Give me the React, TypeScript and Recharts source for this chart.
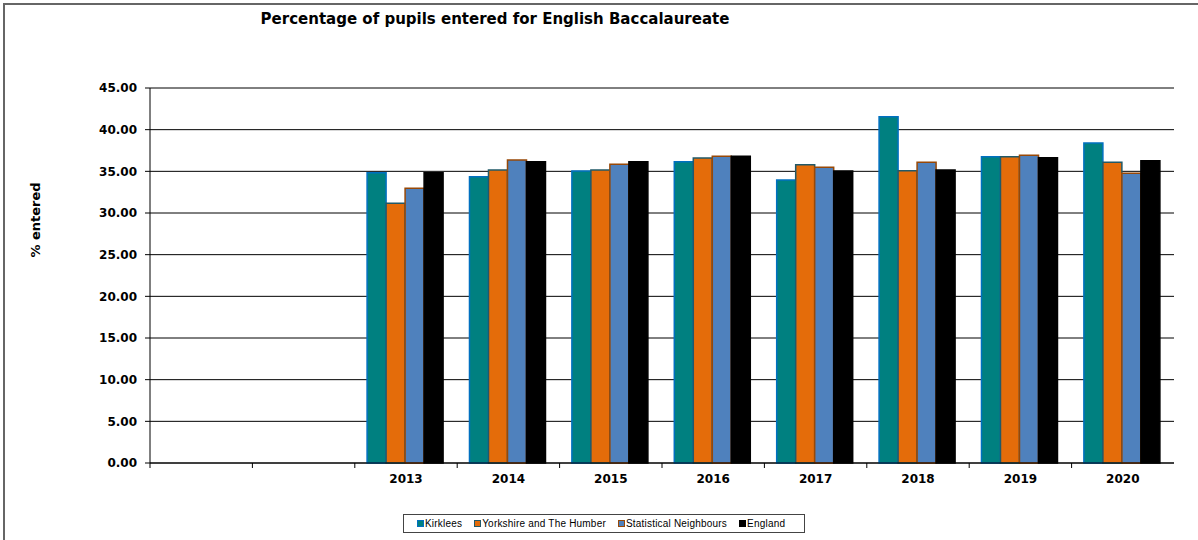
import React from 'react';
import { BarChart, Bar, XAxis, YAxis, CartesianGrid } from 'recharts';

// categories (first two slots are empty in the source chart)
const years = ['', '', '2013', '2014', '2015', '2016', '2017', '2018', '2019', '2020'];

const kirklees = [null, null, 34.84, 34.36, 35.04, 36.16, 33.96, 41.56, 36.76, 38.4];
const yorkshire = [null, null, 31.16, 35.16, 35.16, 36.6, 35.8, 35.08, 36.76, 36.08];
const statNeighbours = [null, null, 32.96, 36.36, 35.84, 36.8, 35.48, 36.08, 36.92, 34.76];
const england = [null, null, 34.84, 36.16, 36.16, 36.8, 35.04, 35.16, 36.64, 36.28];

const yTicks = [0, 5, 10, 15, 20, 25, 30, 35, 40, 45];

const seriesNames = ['Kirklees', 'Yorkshire and The Humber', 'Statistical Neighbours', 'England'];
const seriesFill = ['#008080', '#E46C0A', '#4F81BD', '#000000'];
const seriesStroke = ['#0070C0', '#215968', '#984807', '#000000'];
const seriesKeys = ['kirklees', 'yorkshire', 'statNeighbours', 'england'];

const data = years.map((year, i) => ({
  year,
  kirklees: kirklees[i],
  yorkshire: yorkshire[i],
  statNeighbours: statNeighbours[i],
  england: england[i],
}));

const PLOT_W = 1024;
const BAND = PLOT_W / years.length;
const FONT = 'Verdana, "DejaVu Sans", sans-serif';

const YearTick = (props: any) => {
  const { x, y, payload } = props;
  const left = x - BAND / 2;
  return (
    <g>
      <line x1={left} y1={y} x2={left} y2={y + 5} stroke="#000" />
      <text
        x={x}
        y={y + 20}
        textAnchor="middle"
        fontFamily={FONT}
        fontWeight="bold"
        fontSize={12}
        fill="#000"
      >
        {payload.value}
      </text>
    </g>
  );
};

const App = () => {
  return (
    <div
      style={{
        position: 'absolute',
        left: 0,
        top: 0,
        width: 1198,
        height: 540,
        overflow: 'hidden',
        background: '#fff',
      }}
    >
      <div
        style={{
          position: 'absolute',
          left: 3,
          top: 3,
          width: 1300,
          height: 700,
          border: '2px solid #666',
        }}
      />
      <div
        style={{
          position: 'absolute',
          left: 0,
          width: 990,
          top: 10,
          textAlign: 'center',
          fontFamily: FONT,
          fontWeight: 'bold',
          fontSize: 15,
          color: '#000',
        }}
      >
        Percentage of pupils entered for English Baccalaureate
      </div>
      <div
        style={{
          position: 'absolute',
          left: 35,
          top: 220,
          transform: 'translate(-50%, -50%) rotate(-90deg)',
          fontFamily: FONT,
          fontWeight: 'bold',
          fontSize: 13,
          whiteSpace: 'nowrap',
        }}
      >
        % entered
      </div>

      <div style={{ position: 'absolute', left: 0, top: 0 }}>
        <BarChart
          width={1198}
          height={540}
          data={data}
          margin={{ top: 88, right: 24, left: 0, bottom: 47 }}
          barCategoryGap="12%"
          barGap={0}
        >
          <CartesianGrid vertical={false} stroke="#000" strokeWidth={1} />
          <XAxis
            dataKey="year"
            height={30}
            axisLine={{ stroke: '#000' }}
            tickLine={false}
            tickSize={0}
            tickMargin={0}
            tick={<YearTick />}
            interval={0}
          />
          <YAxis
            width={150}
            domain={[0, 45]}
            ticks={yTicks}
            tickFormatter={(v: number) => v.toFixed(2)}
            axisLine={{ stroke: '#000' }}
            tickLine={{ stroke: '#000' }}
            tickSize={5}
            tickMargin={8}
            tick={{ fontFamily: FONT, fontWeight: 'bold', fontSize: 12, fill: '#000' }}
          />
          <YAxis
            yAxisId="frame"
            orientation="right"
            width={0}
            tick={false}
            tickLine={false}
            axisLine={{ stroke: '#000' }}
          />
          {seriesKeys.map((key, i) => (
            <Bar
              key={key}
              dataKey={key}
              name={seriesNames[i]}
              fill={seriesFill[i]}
              stroke={seriesStroke[i]}
              strokeWidth={1.5}
              isAnimationActive={false}
            />
          ))}
        </BarChart>
      </div>

      <div
        style={{
          position: 'absolute',
          left: 403,
          top: 514,
          width: 402,
          height: 19,
          border: '1px solid #444',
          display: 'flex',
          alignItems: 'center',
          paddingLeft: 13,
          boxSizing: 'border-box',
          fontFamily: 'Arial, "Liberation Sans", sans-serif',
          fontSize: 10,
          letterSpacing: 0.2,
          whiteSpace: 'nowrap',
          color: '#000',
        }}
      >
        {seriesNames.map((name, i) => (
          <span
            key={name}
            style={{ display: 'flex', alignItems: 'center', marginRight: 12, flexShrink: 0 }}
          >
            <span
              style={{
                display: 'inline-block',
                width: 5,
                height: 5,
                background: seriesFill[i],
                border: `1.5px solid ${seriesStroke[i]}`,
                marginRight: 1,
              }}
            />
            {name}
          </span>
        ))}
      </div>
    </div>
  );
};

export default App;
